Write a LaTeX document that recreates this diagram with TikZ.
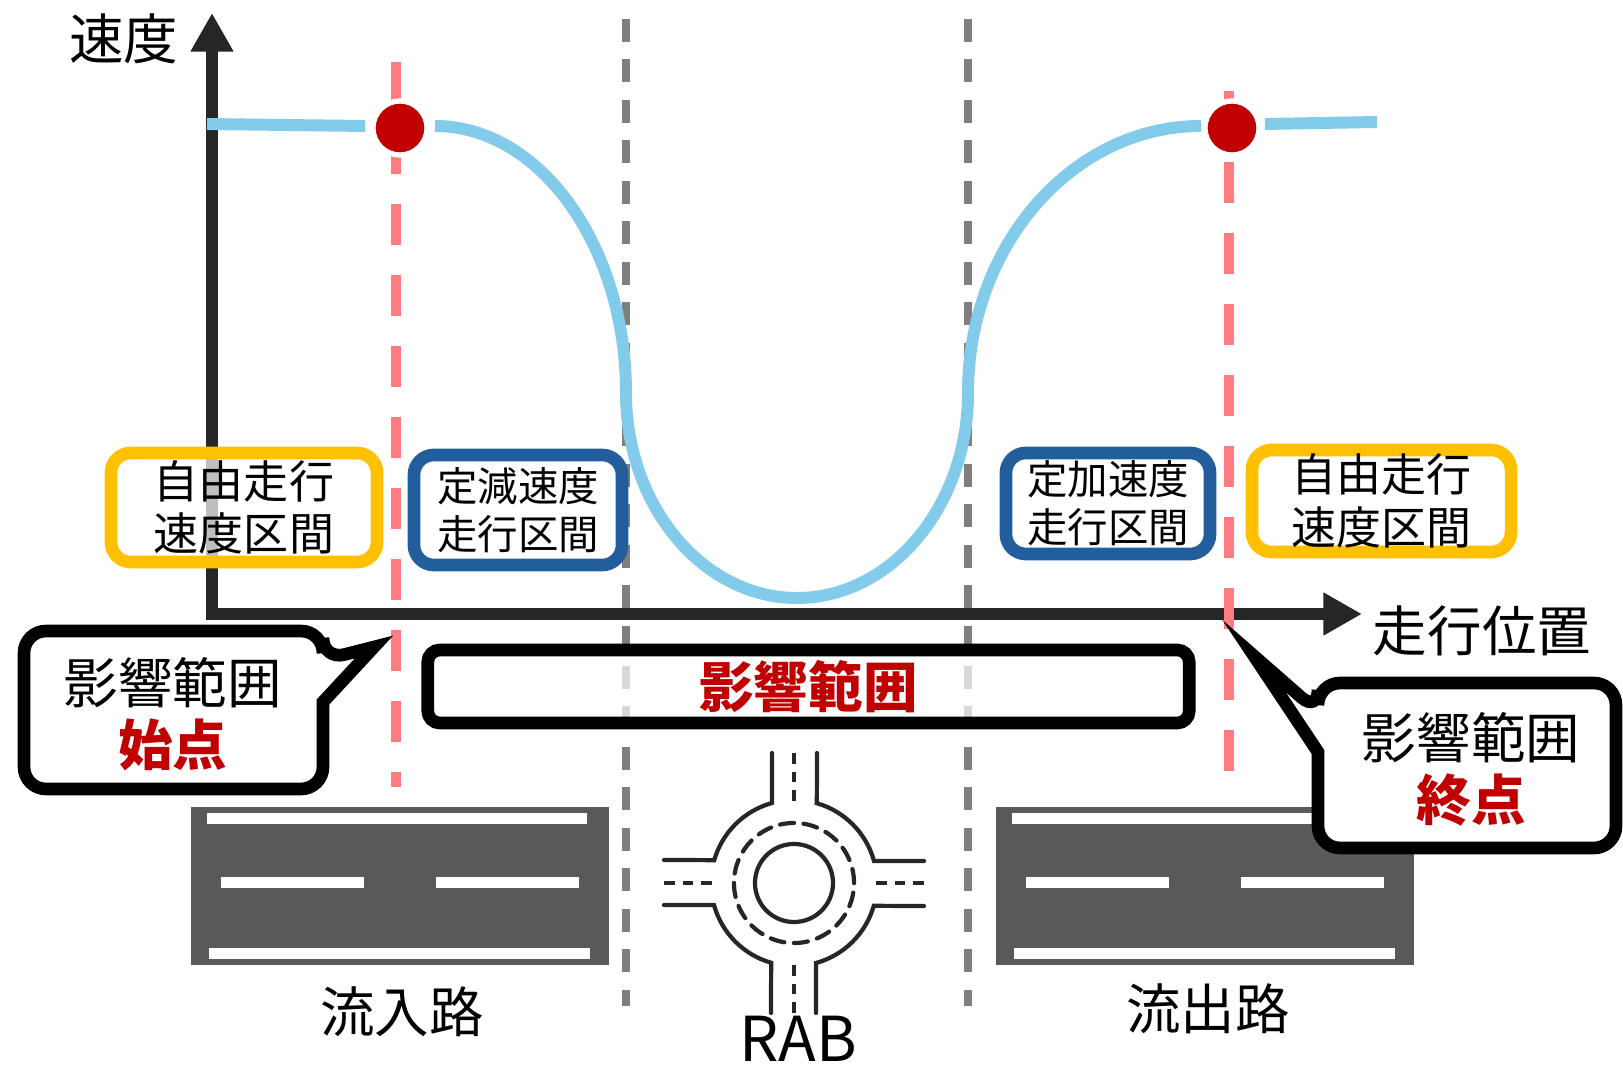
\documentclass[tikz,border=0pt]{standalone}
\usepackage{fontspec}
\setmainfont{Noto Sans CJK JP}
\usepackage{xcolor}
\definecolor{cAxis}{HTML}{262626}
\definecolor{cCurve}{HTML}{83CBEB}
\definecolor{cPink}{HTML}{FF7C80}
\definecolor{cRed}{HTML}{C00000}
\definecolor{cYellow}{HTML}{FFC000}
\definecolor{cBlue}{HTML}{215E9B}
\definecolor{cGray}{HTML}{7F7F7F}
\definecolor{cRoad}{HTML}{595959}
\usetikzlibrary{positioning,arrows.meta}
\tikzset{
  axis-line/.style={draw=cAxis,line width=3.4pt,line join=miter,
    {Triangle[length=11pt,width=11.5pt]}-{Triangle[length=11pt,width=11.5pt]}},
  axis-label/.style={font=\fontsize{15.5}{18}\selectfont},
  guide-gray/.style={draw=cGray,line width=2pt,dash pattern=on 6.5pt off 5pt},
  guide-red/.style={draw=cPink,line width=2.8pt,dash pattern=on 11.7pt off 8.5pt},
  speed-curve/.style={draw=cCurve,line width=3.4pt},
  dot-red/.style={fill=cRed,draw=white,line width=1.5pt},
  % 区間ボックス: 半透明の白で軸が薄く透ける
  box-zone/.style={rounded corners=0.2cm,line width=3.6pt,fill=white,
    fill opacity=0.7,text opacity=1,inner sep=0pt,align=center},
  box-free/.style={box-zone,draw=cYellow,font=\fontsize{12.8}{15}\selectfont},
  box-const/.style={box-zone,draw=cBlue,font=\fontsize{11.5}{13.6}\selectfont},
  box-range/.style={box-zone,draw=black,rounded corners=0.12cm,
    font=\bfseries\fontsize{15.5}{18}\selectfont,text=cRed},
  callout/.style={draw=black,line width=3.6pt,fill=white,line join=miter},
  callout-text/.style={align=center,font=\fontsize{15.5}{17.6}\selectfont},
  road-mark/.style={fill=white},
  rab-line/.style={draw=cAxis,line width=1.2pt,line cap=round},
  rab-dash/.style={draw=cAxis,line width=1.2pt,dash pattern=on 3pt off 2.3pt},
}

\begin{document}
\begin{tikzpicture}[x=0.01cm,y=-0.01cm]
  \useasboundingbox (0,0) rectangle (1623,1067);

  % 区間の境界（RAB 手前／奥）
  \foreach \gx in {626,968}
    \draw[guide-gray] (\gx,19) -- (\gx,1006);

  % 軸
  \draw[axis-line] (212,13) -- (212,614) -- (1362,614);
  \node[axis-label] (vlabel) at (124,39) {速度};
  \node[axis-label] (xlabel) at (1482,631) {走行位置};

  % 影響範囲の始点・終点
  \draw[guide-red] (396,62) -- (396,787);
  \draw[guide-red] (1229,91) -- (1229,771);

  % 速度プロファイル
  \draw[speed-curve] (207,124) -- (365,126);
  \draw[speed-curve] (435,126) .. controls (540,126) and (626,246) .. (626,393)
    .. controls (626,506) and (703,598) .. (797,598)
    .. controls (891,598) and (968,506) .. (968,393)
    .. controls (968,246) and (1072,126) .. (1201,126);
  \draw[speed-curve] (1265,124) -- (1377,122);
  \draw[dot-red] (400,128) circle[radius=0.27cm];
  \draw[dot-red] (1232,128) circle[radius=0.27cm];

  % 区間ラベル
  \node[box-free,minimum width=2.66cm,minimum height=1.09cm] (free-in) at (244,507.5) {自由走行\\速度区間};
  \node[box-const,minimum width=2.08cm,minimum height=1.10cm] (dec) at (518,510) {定減速度\\走行区間};
  \node[box-const,minimum width=2.04cm,minimum height=1.01cm] (acc) at (1108,503.5) {定加速度\\走行区間};
  \node[box-free,minimum width=2.59cm,minimum height=1.02cm] (free-out) at (1381.5,501) {自由走行\\速度区間};
  \node[box-range,minimum width=7.61cm,minimum height=0.73cm] (range) at (808.5,686.5) {影響範囲};

  % 道路（流入路・流出路）
  \foreach \dx/\nm in {0/in,805/out} {
    \fill[cRoad] (191+\dx,807) rectangle (609+\dx,965);
    \fill[road-mark] (207+\dx,813) rectangle (587+\dx,824);
    \fill[road-mark] (221+\dx,877) rectangle (364+\dx,888);
    \fill[road-mark] (436+\dx,877) rectangle (579+\dx,888);
    \fill[road-mark] (209+\dx,948) rectangle (590+\dx,959);
  }
  \node[axis-label] (road-in) at (402,1012) {流入路};
  \node[axis-label] (road-out) at (1208,1009) {流出路};

  % ラウンドアバウト
  \begin{scope}[shift={(794,883)}]
    \foreach \r in {0,90,180,270} {
      \begin{scope}[rotate=\r]
        \draw[rab-line] (-22,-130) -- (-22,-80)
          arc[start angle=105.4,end angle=164,radius=0.83cm] -- (-130,-23);
        \draw[rab-dash] (0,-130) -- (0,-82);
      \end{scope}
    }
    \draw[rab-line] (0,0) circle[radius=0.39cm];
    \draw[rab-line,dash pattern=on 4pt off 2.7pt] (0,0) circle[radius=0.60cm];
  \end{scope}
  \node[anchor=base,font=\fontsize{17.6}{20}\selectfont] (rab) at (798,1062) {RAB};

  % 吹き出し
  \draw[callout] (170,631) [rounded corners=0.22cm] -- (323,631) -- (323,660)
    [sharp corners] -- (374,647) -- (323,702)
    [rounded corners=0.22cm] -- (323,789) -- (24,789) -- (24,631) -- cycle;
  \node[callout-text] (start) at (173,714) {影響範囲\\{\bfseries\color{cRed}始点}};

  \draw[callout] (1470,683) [rounded corners=0.22cm] -- (1318,683) -- (1318,712)
    [sharp corners] -- (1254,656) -- (1318,752)
    [rounded corners=0.22cm] -- (1318,848) -- (1616,848) -- (1616,683) -- cycle;
  \node[callout-text] (end) at (1471,769) {影響範囲\\{\bfseries\color{cRed}終点}};
\end{tikzpicture}
\end{document}
